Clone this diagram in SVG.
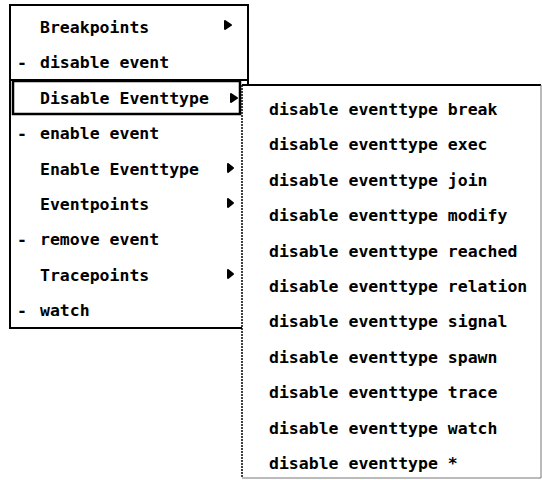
<svg xmlns="http://www.w3.org/2000/svg" width="542" height="480" viewBox="0 0 542 480">
<style>
  .t { font-family: "DejaVu Sans Mono", "Liberation Mono", monospace; font-size: 16.5px; font-weight: bold; fill: #000; }
  .b { fill: none; stroke: #000; stroke-width: 2; }
  .thin { fill: none; stroke: #000; stroke-width: 1.5; stroke-dasharray: 2 1; }
  .g { fill: none; stroke: #777; stroke-width: 1; }
  .arr { fill: #000; stroke: #000; stroke-width: 2; stroke-linejoin: round; }
</style>
<rect width="542" height="480" fill="#fff"/>

<g id="main-menu">
  <path class="b" d="M10,329 L10,5 L248,5 L248,85"/>
  <path class="b" d="M10,80 L248,80"/>
  <path class="b" d="M10,328 L242,328"/>
  <g id="item-breakpoints">
    <text class="t" x="40" y="33">Breakpoints</text>
    <path class="arr" d="M225,21 L231,25 L225,29 Z"/>
  </g>
  <g id="item-disable-event">
    <text class="t" x="17" y="68">-</text>
    <text class="t" x="40" y="68">disable event</text>
  </g>
  <g id="item-disable-eventtype">
    <rect x="13" y="81" width="227" height="33" fill="none" stroke="#000" stroke-width="2.5"/>
    <text class="t" x="40" y="104">Disable Eventtype</text>
    <path class="arr" d="M231,94 L237,98 L231,102 Z"/>
  </g>
  <g id="item-enable-event">
    <text class="t" x="17" y="139">-</text>
    <text class="t" x="40" y="139">enable event</text>
  </g>
  <g id="item-enable-eventtype">
    <text class="t" x="40" y="175">Enable Eventtype</text>
    <path class="arr" d="M228,164 L233,168 L228,172 Z"/>
  </g>
  <g id="item-eventpoints">
    <text class="t" x="40" y="210">Eventpoints</text>
    <path class="arr" d="M228,199 L233,203 L228,207 Z"/>
  </g>
  <g id="item-remove-event">
    <text class="t" x="17" y="245">-</text>
    <text class="t" x="40" y="245">remove event</text>
  </g>
  <g id="item-tracepoints">
    <text class="t" x="40" y="281">Tracepoints</text>
    <path class="arr" d="M228,270 L233,274 L228,278 Z"/>
  </g>
  <g id="item-watch">
    <text class="t" x="17" y="316">-</text>
    <text class="t" x="40" y="316">watch</text>
  </g>
</g>

<g id="submenu">
  <rect x="242" y="85" width="300" height="395" fill="#fff"/>
  <path class="b" d="M242,85 L541,85"/>
  <path class="thin" d="M242,85 L242,478"/>
  <path class="g" d="M541,85 L541,478 L242,478"/>
  <g id="sub-break"><text class="t" x="269" y="115">disable eventtype break</text></g>
  <g id="sub-exec"><text class="t" x="269" y="150.4">disable eventtype exec</text></g>
  <g id="sub-join"><text class="t" x="269" y="185.8">disable eventtype join</text></g>
  <g id="sub-modify"><text class="t" x="269" y="221.2">disable eventtype modify</text></g>
  <g id="sub-reached"><text class="t" x="269" y="256.6">disable eventtype reached</text></g>
  <g id="sub-relation"><text class="t" x="269" y="292">disable eventtype relation</text></g>
  <g id="sub-signal"><text class="t" x="269" y="327.4">disable eventtype signal</text></g>
  <g id="sub-spawn"><text class="t" x="269" y="362.8">disable eventtype spawn</text></g>
  <g id="sub-trace"><text class="t" x="269" y="398.2">disable eventtype trace</text></g>
  <g id="sub-watch"><text class="t" x="269" y="433.6">disable eventtype watch</text></g>
  <g id="sub-all"><text class="t" x="269" y="469">disable eventtype *</text></g>
</g>
</svg>
